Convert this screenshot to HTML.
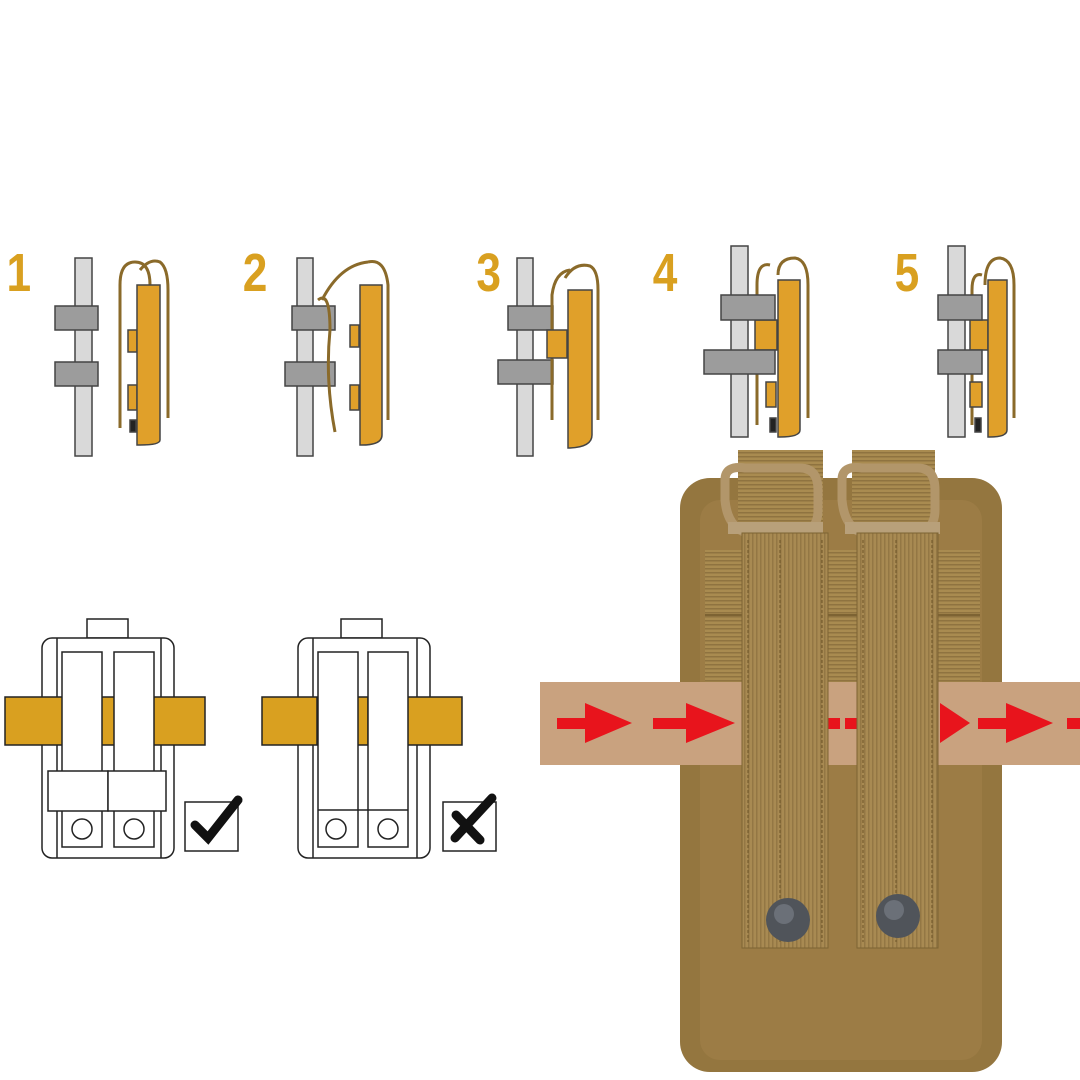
<!DOCTYPE html>
<html><head><meta charset="utf-8"><style>
html,body{margin:0;padding:0;background:#fff;width:1080px;height:1080px;overflow:hidden}
svg{display:block}
.n{font-family:"Liberation Sans",sans-serif;font-weight:bold;fill:#d9a020;font-size:54px}
</style></head><body>
<svg width="1080" height="1080" viewBox="0 0 1080 1080" xmlns="http://www.w3.org/2000/svg">
<defs>
<pattern id="web" width="6" height="4" patternUnits="userSpaceOnUse"><rect width="6" height="4" fill="#a98b50"/><rect width="6" height="1.5" fill="#8f7340"/></pattern>
<pattern id="web2" width="4" height="6" patternUnits="userSpaceOnUse"><rect width="4" height="6" fill="#a88a52"/><rect width="1.5" height="6" fill="#937744"/></pattern>
</defs>
<!-- step numbers -->
<g transform="scale(0.82,1)">
<text class="n" x="8" y="291">1</text>
<text class="n" x="296" y="291">2</text>
<text class="n" x="581" y="291">3</text>
<text class="n" x="796" y="291">4</text>
<text class="n" x="1091" y="291">5</text>
</g>

<g stroke="#444" stroke-width="1.5">
<!-- step1 -->
<rect x="75" y="258" width="17" height="198" fill="#d9d9d9"/>
<rect x="55" y="306" width="43" height="24" fill="#9c9c9c"/>
<rect x="55" y="362" width="43" height="24" fill="#9c9c9c"/>
<path d="M120 428 V285 Q120 262 135 262 Q150 262 150 285 M140 270 Q150 258 160 262 Q168 268 168 290 V418" fill="none" stroke="#8a6a2a" stroke-width="3"/>
<rect x="128" y="330" width="9" height="22" fill="#e0a02a"/>
<rect x="128" y="385" width="9" height="25" fill="#e0a02a"/>
<rect x="130" y="420" width="6" height="12" fill="#222"/>
<path d="M137 285 H160 V440 Q160 445 140 445 H137 Z" fill="#e0a02a"/>
<!-- step2 -->
<rect x="297" y="258" width="16" height="198" fill="#d9d9d9"/>
<rect x="292" y="306" width="43" height="24" fill="#9c9c9c"/>
<rect x="285" y="362" width="50" height="24" fill="#9c9c9c"/>
<path d="M335 432 Q325 380 330 330 Q330 290 318 300 M322 300 Q340 265 368 262 M368 262 Q385 258 388 285 V420" fill="none" stroke="#8a6a2a" stroke-width="3"/>
<rect x="350" y="325" width="9" height="22" fill="#e0a02a"/>
<rect x="350" y="385" width="9" height="25" fill="#e0a02a"/>
<path d="M360 285 H382 V435 Q382 445 362 445 H360 Z" fill="#e0a02a"/>
<!-- step3 -->
<rect x="517" y="258" width="16" height="198" fill="#d9d9d9"/>
<rect x="508" y="306" width="45" height="24" fill="#9c9c9c"/>
<rect x="498" y="360" width="55" height="24" fill="#9c9c9c"/>
<path d="M552 420 V295 Q555 272 570 270 M565 278 Q575 262 590 266 Q598 270 598 290 V420" fill="none" stroke="#8a6a2a" stroke-width="3"/>
<rect x="547" y="330" width="20" height="28" fill="#e0a02a"/>
<path d="M568 290 H592 V435 Q592 447 570 448 H568 Z" fill="#e0a02a"/>
<!-- step4 -->
<rect x="731" y="246" width="17" height="191" fill="#d9d9d9"/>
<path d="M757 425 V285 Q757 262 770 265 M778 275 Q778 258 795 258 Q808 260 808 285 V418" fill="none" stroke="#8a6a2a" stroke-width="3"/>
<rect x="755" y="320" width="22" height="30" fill="#e0a02a"/>
<rect x="766" y="382" width="10" height="25" fill="#e0a02a"/>
<rect x="770" y="418" width="6" height="14" fill="#222"/>
<rect x="721" y="295" width="54" height="25" fill="#9c9c9c"/>
<rect x="704" y="350" width="71" height="24" fill="#9c9c9c"/>
<path d="M778 280 H800 V430 Q800 437 780 437 H778 Z" fill="#e0a02a"/>
<!-- step5 -->
<rect x="948" y="246" width="17" height="191" fill="#d9d9d9"/>
<path d="M972 425 V290 Q972 272 982 275 M985 285 Q985 258 1000 258 Q1014 260 1014 285 V418" fill="none" stroke="#8a6a2a" stroke-width="3"/>
<rect x="970" y="320" width="18" height="30" fill="#e0a02a"/>
<rect x="970" y="382" width="12" height="25" fill="#e0a02a"/>
<rect x="975" y="418" width="6" height="14" fill="#222"/>
<rect x="938" y="295" width="44" height="25" fill="#9c9c9c"/>
<rect x="938" y="350" width="44" height="24" fill="#9c9c9c"/>
<path d="M988 280 H1007 V430 Q1007 437 990 437 H988 Z" fill="#e0a02a"/>
</g>

<!-- bottom diagrams -->
<g fill="#fff" stroke="#222" stroke-width="1.5">
<rect x="87" y="619" width="41" height="19" />
<rect x="42" y="638" width="132" height="220" rx="10"/>
<line x1="57" y1="638" x2="57" y2="858"/><line x1="161" y1="638" x2="161" y2="858"/>
<rect x="5" y="697" width="200" height="48" fill="#d9a020"/>
<rect x="62" y="652" width="40" height="195"/><rect x="114" y="652" width="40" height="195"/>
<rect x="48" y="771" width="60" height="40"/><rect x="108" y="771" width="58" height="40"/>
<circle cx="82" cy="829" r="10"/><circle cx="134" cy="829" r="10"/>
<rect x="185" y="802" width="53" height="49"/>
</g>
<path d="M195 825 L208 838 L238 800" fill="none" stroke="#111" stroke-width="9" stroke-linecap="round"/>
<g fill="#fff" stroke="#222" stroke-width="1.5">
<rect x="341" y="619" width="41" height="19" />
<rect x="298" y="638" width="132" height="220" rx="10"/>
<line x1="313" y1="638" x2="313" y2="858"/><line x1="417" y1="638" x2="417" y2="858"/>
<rect x="262" y="697" width="55" height="48" fill="#d9a020"/>
<rect x="355" y="697" width="13" height="48" fill="#d9a020"/>
<rect x="407" y="697" width="55" height="48" fill="#d9a020"/>
<rect x="318" y="652" width="40" height="195"/><rect x="368" y="652" width="40" height="195"/>
<line x1="318" y1="810" x2="408" y2="810"/>
<circle cx="336" cy="829" r="10"/><circle cx="388" cy="829" r="10"/>
<rect x="443" y="802" width="53" height="49"/>
</g>
<path d="M456 815 L480 840 M455 838 L492 798" fill="none" stroke="#111" stroke-width="9" stroke-linecap="round"/>

<!-- pouch -->
<rect x="680" y="478" width="322" height="594" rx="30" fill="#94763f"/>
<rect x="700" y="500" width="282" height="560" rx="20" fill="#9c7c45"/>
<rect x="705" y="550" width="275" height="195" fill="url(#web)"/>
<line x1="705" y1="615" x2="980" y2="615" stroke="#7d6333" stroke-width="2"/>
<line x1="705" y1="685" x2="980" y2="685" stroke="#7d6333" stroke-width="2"/>
<!-- band -->
<rect x="540" y="682" width="540" height="83" fill="#c9a27f"/>
<g fill="#e8141c">
<rect x="557" y="718" width="30" height="11"/><path d="M585 703 L632 723 L585 743 Z"/>
<rect x="653" y="718" width="35" height="11"/><path d="M686 703 L735 723 L686 743 Z"/>
<rect x="820" y="718" width="20" height="11"/><rect x="845" y="718" width="15" height="11"/>
<path d="M940 703 L970 723 L940 743 Z"/>
<rect x="978" y="718" width="30" height="11"/><path d="M1006 703 L1053 723 L1006 743 Z"/>
<rect x="1067" y="718" width="13" height="11"/>
</g>
<!-- straps top -->
<rect x="738" y="450" width="85" height="80" fill="url(#web)"/>
<rect x="852" y="450" width="83" height="80" fill="url(#web)"/>
<path d="M725 480 Q725 465 745 468 H800 Q818 468 818 490 V510 Q818 535 790 535 H760 Q728 535 725 500 Z" fill="none" stroke="#b2966a" stroke-width="9"/>
<path d="M842 480 Q842 465 862 468 H918 Q935 468 935 490 V510 Q935 535 905 535 H875 Q845 535 842 500 Z" fill="none" stroke="#b2966a" stroke-width="9"/>
<rect x="728" y="522" width="95" height="12" fill="#b8a07a"/>
<rect x="845" y="522" width="95" height="12" fill="#b8a07a"/>
<!-- straps -->
<rect x="742" y="533" width="86" height="415" fill="url(#web2)" stroke="#7d6333"/>
<rect x="857" y="533" width="81" height="415" fill="url(#web2)" stroke="#7d6333"/>
<g stroke="#6e5428" stroke-width="1" stroke-dasharray="3 2">
<line x1="748" y1="540" x2="748" y2="942"/><line x1="780" y1="540" x2="780" y2="942"/><line x1="822" y1="540" x2="822" y2="942"/>
<line x1="863" y1="540" x2="863" y2="942"/><line x1="896" y1="540" x2="896" y2="942"/><line x1="932" y1="540" x2="932" y2="942"/>
</g>
<circle cx="788" cy="920" r="22" fill="#50545a"/><circle cx="784" cy="914" r="10" fill="#6b7078"/>
<circle cx="898" cy="916" r="22" fill="#50545a"/><circle cx="894" cy="910" r="10" fill="#6b7078"/>
</svg>
</body></html>
